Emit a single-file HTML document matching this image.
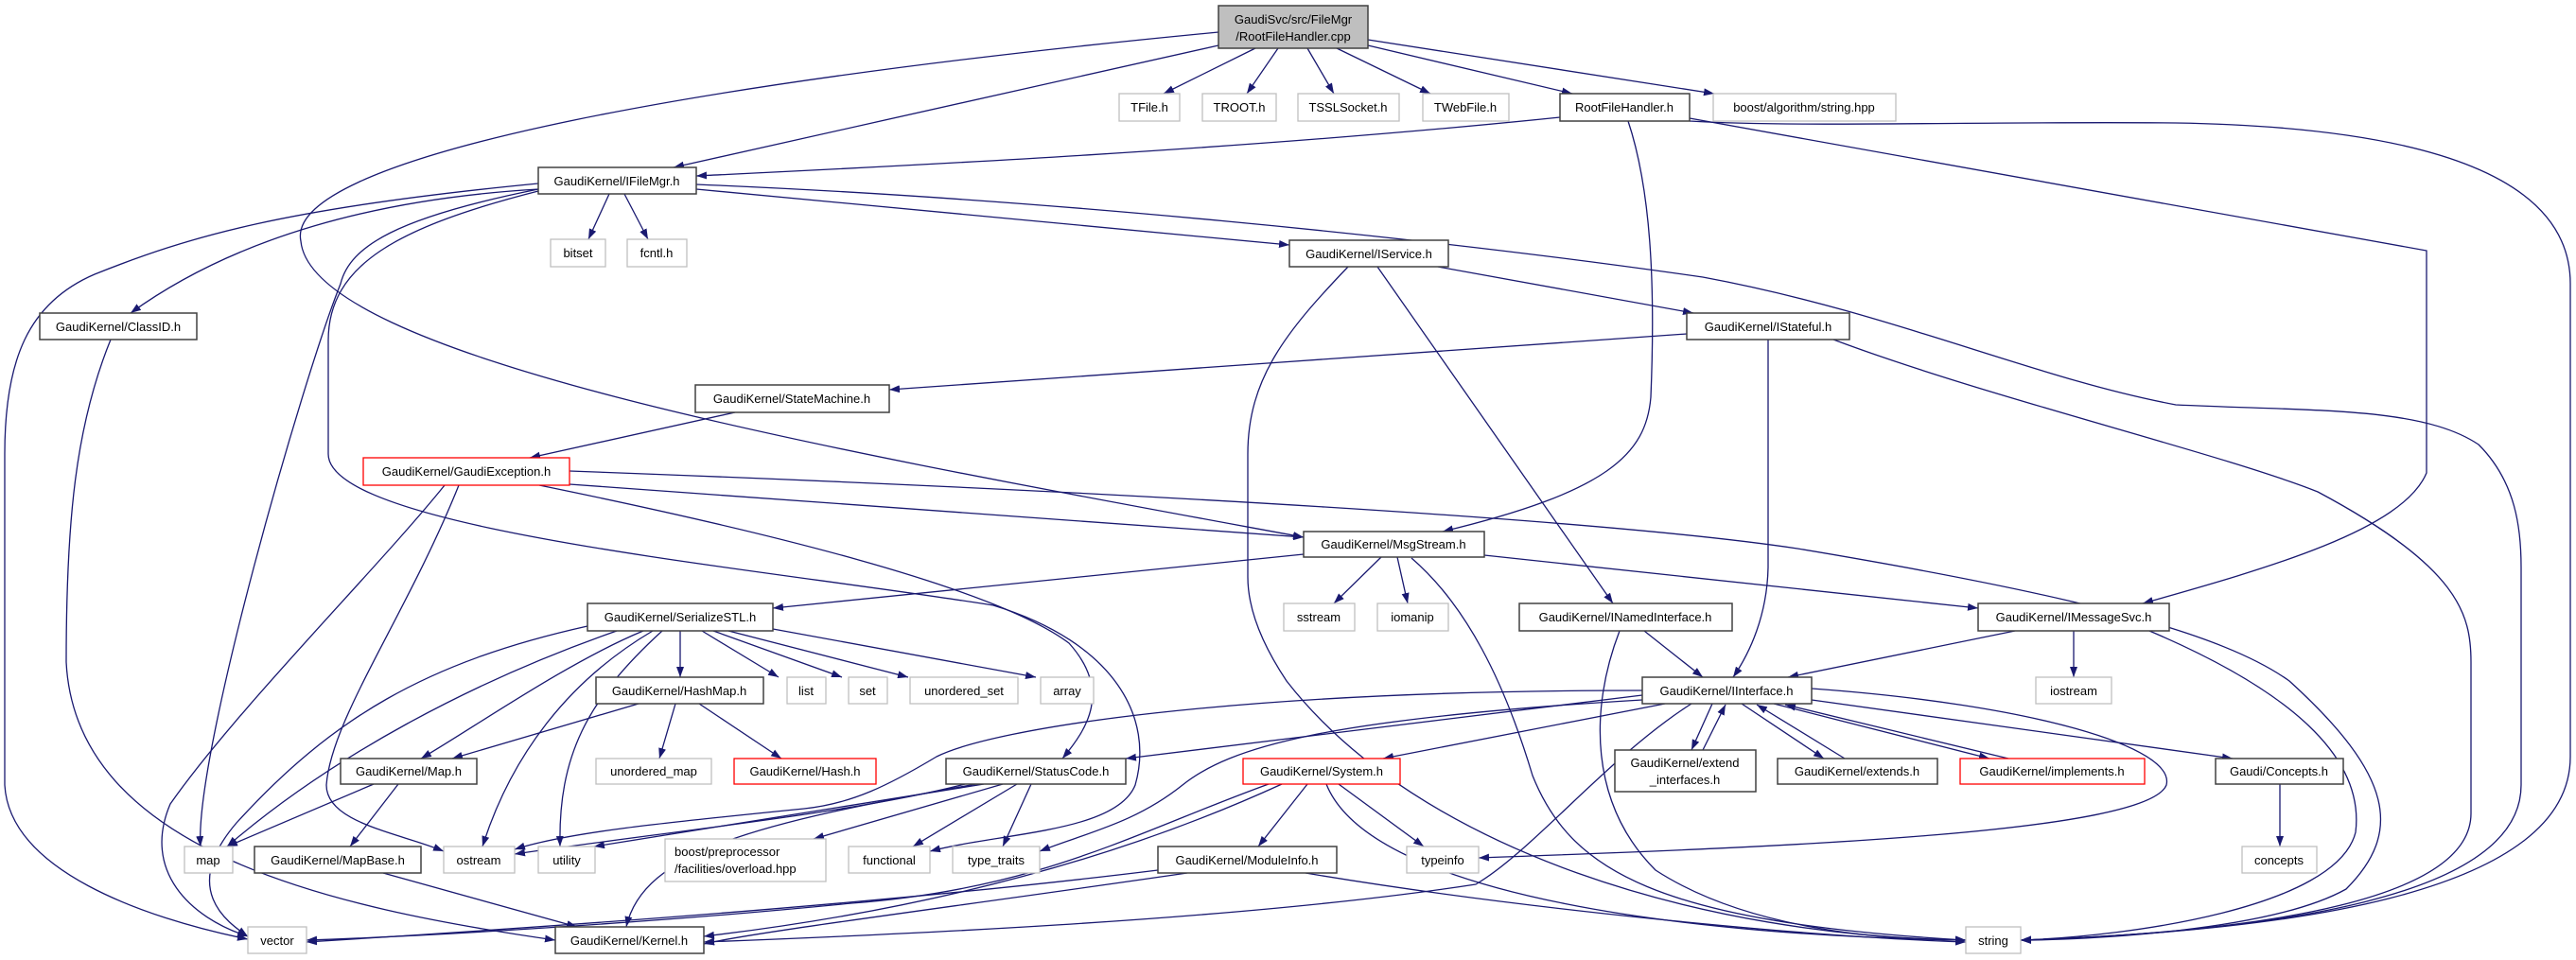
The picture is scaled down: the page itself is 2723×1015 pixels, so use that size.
<!DOCTYPE html>
<html><head><meta charset="utf-8"><style>
html,body{margin:0;padding:0;background:#fff;}
svg{display:block;}
text{font-family:"Liberation Sans",sans-serif;font-size:13px;fill:#000;}
.e{fill:none;stroke:#191970;stroke-width:1.3;marker-end:url(#a);}
.n{fill:#fff;stroke:#404040;stroke-width:1.5;}
.g{fill:#fff;stroke:#bfbfbf;stroke-width:1.3;}
.r{fill:#fff;stroke:#ff0000;stroke-width:1.3;}
</style></head><body>
<svg width="2723" height="1015" viewBox="0 0 2723 1015" xmlns="http://www.w3.org/2000/svg">
<defs><marker id="a" markerUnits="userSpaceOnUse" markerWidth="11" markerHeight="8" refX="11" refY="4" orient="auto"><path d="M0,0 L11,4 L0,8 z" fill="#191970"/></marker></defs>
<g>
<!-- root -->
<line class="e" x1="1327" y1="51" x2="1230" y2="99"/>
<line class="e" x1="1351" y1="51" x2="1318" y2="99"/>
<line class="e" x1="1382" y1="51" x2="1410" y2="99"/>
<line class="e" x1="1413" y1="51" x2="1512" y2="99"/>
<line class="e" x1="1446" y1="48" x2="1662" y2="99"/>
<line class="e" x1="1446" y1="42" x2="1812" y2="99"/>
<line class="e" x1="1288" y1="48" x2="712" y2="177"/>
<path class="e" d="M1288,34 C700,90 300,170 318,255 C330,380 900,480 1378,568"/>
<!-- RFH -->
<path class="e" d="M1649,124 C1300,160 900,178 736,186"/>
<path class="e" d="M1721,128 C1745,200 1750,300 1745,420 C1740,480 1700,520 1525,562"/>
<path class="e" d="M1786,125 L2565,265 L2565,500 C2540,560 2400,600 2265,638"/>
<path class="e" d="M1786,128 C1900,135 2100,128 2300,130 C2600,135 2717,200 2717,300 L2717,800 C2717,950 2400,985 2136,994"/>
<!-- IFileMgr -->
<line class="e" x1="644" y1="205" x2="622" y2="253"/>
<line class="e" x1="660" y1="205" x2="685" y2="253"/>
<line class="e" x1="736" y1="200" x2="1363" y2="259"/>
<path class="e" d="M569,200 C400,210 250,250 138,331"/>
<path class="e" d="M569,194 C300,220 200,250 100,290 C30,320 5,380 5,480 L5,830 C10,920 150,970 262,993"/>
<path class="e" d="M569,200 C420,230 370,260 360,300 C320,400 205,800 212,895"/>
<path class="e" d="M569,202 C420,240 347,280 347,360 L347,480 C347,560 800,600 1050,640 C1180,680 1220,760 1200,830 C1180,880 1060,880 983,900"/>
<path class="e" d="M736,195 C1100,210 1500,250 1800,293 C2000,330 2150,400 2300,428 C2450,435 2560,430 2620,470 C2660,510 2665,560 2665,600 L2665,830 C2665,950 2400,985 2136,994"/>
<!-- IService / IStateful -->
<line class="e" x1="1520" y1="282" x2="1790" y2="331"/>
<line class="e" x1="1456" y1="282" x2="1705" y2="638"/>
<path class="e" d="M1425,282 C1360,350 1319,400 1319,480 L1319,610 C1319,650 1340,690 1360,720 C1500,900 1800,990 2078,994"/>
<line class="e" x1="1783" y1="353" x2="940" y2="412"/>
<path class="e" d="M1869,359 L1869,600 C1868,650 1850,690 1832,716"/>
<path class="e" d="M1938,359 C2100,420 2350,480 2450,520 C2600,600 2612,650 2612,700 L2612,860 C2612,950 2400,985 2136,994"/>
<line class="e" x1="777" y1="436" x2="560" y2="484"/>
<!-- GaudiException -->
<line class="e" x1="602" y1="512" x2="1378" y2="568"/>
<path class="e" d="M602,498 C1200,520 1700,550 1900,580 C2200,630 2350,670 2420,720 C2530,820 2540,880 2480,940 C2400,985 2200,994 2136,994"/>
<path class="e" d="M570,513 C800,560 1050,620 1130,680 C1175,730 1150,770 1123,802"/>
<path class="e" d="M470,513 C400,600 250,750 180,850 C150,920 200,970 262,990"/>
<path class="e" d="M485,513 C430,650 350,760 345,830 C345,870 420,880 469,900"/>
<path class="e" d="M117,359 C80,450 70,550 70,700 C80,900 350,960 587,994"/>
<!-- MsgStream -->
<line class="e" x1="1460" y1="589" x2="1410" y2="638"/>
<line class="e" x1="1477" y1="589" x2="1488" y2="638"/>
<line class="e" x1="1378" y1="586" x2="817" y2="643"/>
<line class="e" x1="1569" y1="587" x2="2091" y2="643"/>
<path class="e" d="M1492,590 C1550,640 1590,720 1620,820 C1660,920 1750,975 2078,994"/>
<line class="e" x1="1738" y1="667" x2="1800" y2="716"/>
<path class="e" d="M1712,667 C1680,750 1680,850 1750,920 C1850,985 2000,994 2078,994"/>
<line class="e" x1="2130" y1="667" x2="1890" y2="716"/>
<line class="e" x1="2192" y1="667" x2="2192" y2="716"/>
<path class="e" d="M2272,667 C2420,730 2500,800 2490,880 C2470,960 2250,990 2136,994"/>
<!-- SerializeSTL -->
<line class="e" x1="719" y1="667" x2="719" y2="716"/>
<line class="e" x1="742" y1="667" x2="823" y2="716"/>
<line class="e" x1="754" y1="667" x2="890" y2="716"/>
<line class="e" x1="770" y1="667" x2="960" y2="716"/>
<line class="e" x1="817" y1="665" x2="1095" y2="716"/>
<path class="e" d="M680,667 C600,700 500,770 445,802"/>
<path class="e" d="M652,667 C500,720 350,800 240,895"/>
<path class="e" d="M621,662 C450,700 350,760 250,870 C190,940 240,975 262,990"/>
<path class="e" d="M690,667 C600,720 540,800 510,895"/>
<path class="e" d="M700,667 C620,740 590,800 592,895"/>
<!-- HashMap / Map -->
<line class="e" x1="675" y1="744" x2="478" y2="802"/>
<line class="e" x1="714" y1="744" x2="697" y2="802"/>
<line class="e" x1="739" y1="744" x2="826" y2="802"/>
<line class="e" x1="395" y1="829" x2="240" y2="895"/>
<line class="e" x1="421" y1="829" x2="370" y2="895"/>
<line class="e" x1="405" y1="923" x2="610" y2="980"/>
<!-- IInterface -->
<line class="e" x1="1736" y1="735" x2="1190" y2="802"/>
<line class="e" x1="1760" y1="744" x2="1462" y2="802"/>
<line class="e" x1="1810" y1="744" x2="1788" y2="793"/>
<line class="e" x1="1800" y1="793" x2="1824" y2="745"/>
<line class="e" x1="1841" y1="744" x2="1928" y2="802"/>
<line class="e" x1="1950" y1="802" x2="1857" y2="745"/>
<line class="e" x1="1875" y1="744" x2="2103" y2="802"/>
<line class="e" x1="2123" y1="802" x2="1887" y2="745"/>
<line class="e" x1="1915" y1="740" x2="2360" y2="802"/>
<line class="e" x1="2410" y1="829" x2="2410" y2="895"/>
<path class="e" d="M1915,728 C2150,745 2300,790 2290,830 C2270,880 1900,895 1563,907"/>
<path class="e" d="M1736,730 C1300,730 1050,770 990,800 C940,830 900,850 850,855 C700,870 600,880 544,898"/>
<path class="e" d="M1736,740 C1400,760 1300,790 1250,830 C1200,870 1150,880 1099,900"/>
<path class="e" d="M1788,744 C1700,800 1620,900 1560,935 C1300,975 900,990 744,996"/>
<!-- StatusCode -->
<line class="e" x1="1075" y1="829" x2="965" y2="895"/>
<line class="e" x1="1090" y1="829" x2="1060" y2="895"/>
<path class="e" d="M1020,829 C900,860 700,880 544,903"/>
<line class="e" x1="1040" y1="829" x2="628" y2="895"/>
<line class="e" x1="1060" y1="829" x2="860" y2="887"/>
<path class="e" d="M1032,829 C800,870 680,900 662,980"/>
<!-- System / ModuleInfo -->
<line class="e" x1="1382" y1="829" x2="1330" y2="895"/>
<line class="e" x1="1415" y1="829" x2="1505" y2="895"/>
<path class="e" d="M1341,829 C1200,880 1100,940 900,955 C700,975 450,990 324,994"/>
<path class="e" d="M1355,829 C1200,900 1000,960 744,990"/>
<path class="e" d="M1402,829 C1450,950 1800,990 2078,994"/>
<path class="e" d="M1224,920 C900,960 500,985 324,996"/>
<path class="e" d="M1255,923 C1000,960 800,985 744,998"/>
<path class="e" d="M1380,923 C1600,960 1900,990 2078,996"/>
</g>
<g>
<rect x="1288" y="6" width="158" height="45" fill="#bfbfbf" stroke="#404040" stroke-width="1.5"/>
<text x="1367" y="25" text-anchor="middle">GaudiSvc/src/FileMgr</text>
<text x="1367" y="43" text-anchor="middle">/RootFileHandler.cpp</text>
<rect class="g" x="1183" y="99" width="64" height="29"/><text x="1215" y="118" text-anchor="middle">TFile.h</text>
<rect class="g" x="1271" y="99" width="78" height="29"/><text x="1310" y="118" text-anchor="middle">TROOT.h</text>
<rect class="g" x="1372" y="99" width="107" height="29"/><text x="1425" y="118" text-anchor="middle">TSSLSocket.h</text>
<rect class="g" x="1504" y="99" width="91" height="29"/><text x="1549" y="118" text-anchor="middle">TWebFile.h</text>
<rect class="n" x="1649" y="99" width="137" height="29"/><text x="1717" y="118" text-anchor="middle">RootFileHandler.h</text>
<rect class="g" x="1811" y="99" width="193" height="29"/><text x="1907" y="118" text-anchor="middle">boost/algorithm/string.hpp</text>
<rect class="n" x="569" y="177" width="167" height="28"/><text x="652" y="196" text-anchor="middle">GaudiKernel/IFileMgr.h</text>
<rect class="g" x="582" y="253" width="58" height="29"/><text x="611" y="272" text-anchor="middle">bitset</text>
<rect class="g" x="663" y="253" width="63" height="29"/><text x="694" y="272" text-anchor="middle">fcntl.h</text>
<rect class="n" x="1363" y="254" width="168" height="28"/><text x="1447" y="273" text-anchor="middle">GaudiKernel/IService.h</text>
<rect class="n" x="42" y="331" width="166" height="28"/><text x="125" y="350" text-anchor="middle">GaudiKernel/ClassID.h</text>
<rect class="n" x="1783" y="331" width="172" height="28"/><text x="1869" y="350" text-anchor="middle">GaudiKernel/IStateful.h</text>
<rect class="n" x="735" y="407" width="205" height="29"/><text x="837" y="426" text-anchor="middle">GaudiKernel/StateMachine.h</text>
<rect class="r" x="384" y="484" width="218" height="29"/><text x="493" y="503" text-anchor="middle">GaudiKernel/GaudiException.h</text>
<rect class="n" x="1378" y="562" width="191" height="27"/><text x="1473" y="580" text-anchor="middle">GaudiKernel/MsgStream.h</text>
<rect class="n" x="621" y="638" width="196" height="29"/><text x="719" y="657" text-anchor="middle">GaudiKernel/SerializeSTL.h</text>
<rect class="g" x="1357" y="638" width="75" height="29"/><text x="1394" y="657" text-anchor="middle">sstream</text>
<rect class="g" x="1456" y="638" width="75" height="29"/><text x="1493" y="657" text-anchor="middle">iomanip</text>
<rect class="n" x="1606" y="638" width="225" height="29"/><text x="1718" y="657" text-anchor="middle">GaudiKernel/INamedInterface.h</text>
<rect class="n" x="2091" y="638" width="202" height="29"/><text x="2192" y="657" text-anchor="middle">GaudiKernel/IMessageSvc.h</text>
<rect class="n" x="630" y="716" width="177" height="28"/><text x="718" y="735" text-anchor="middle">GaudiKernel/HashMap.h</text>
<rect class="g" x="832" y="716" width="41" height="28"/><text x="852" y="735" text-anchor="middle">list</text>
<rect class="g" x="897" y="716" width="41" height="28"/><text x="917" y="735" text-anchor="middle">set</text>
<rect class="g" x="962" y="716" width="114" height="28"/><text x="1019" y="735" text-anchor="middle">unordered_set</text>
<rect class="g" x="1100" y="716" width="56" height="28"/><text x="1128" y="735" text-anchor="middle">array</text>
<rect class="n" x="1736" y="716" width="179" height="28"/><text x="1825" y="735" text-anchor="middle">GaudiKernel/IInterface.h</text>
<rect class="g" x="2152" y="716" width="80" height="28"/><text x="2192" y="735" text-anchor="middle">iostream</text>
<rect class="n" x="360" y="802" width="144" height="27"/><text x="432" y="820" text-anchor="middle">GaudiKernel/Map.h</text>
<rect class="g" x="630" y="802" width="122" height="27"/><text x="691" y="820" text-anchor="middle">unordered_map</text>
<rect class="r" x="776" y="802" width="150" height="27"/><text x="851" y="820" text-anchor="middle">GaudiKernel/Hash.h</text>
<rect class="n" x="1000" y="802" width="190" height="27"/><text x="1095" y="820" text-anchor="middle">GaudiKernel/StatusCode.h</text>
<rect class="r" x="1314" y="802" width="166" height="27"/><text x="1397" y="820" text-anchor="middle">GaudiKernel/System.h</text>
<rect class="n" x="1707" y="793" width="149" height="44"/><text x="1781" y="811" text-anchor="middle">GaudiKernel/extend</text><text x="1781" y="829" text-anchor="middle">_interfaces.h</text>
<rect class="n" x="1879" y="802" width="169" height="27"/><text x="1963" y="820" text-anchor="middle">GaudiKernel/extends.h</text>
<rect class="r" x="2072" y="802" width="195" height="27"/><text x="2169" y="820" text-anchor="middle">GaudiKernel/implements.h</text>
<rect class="n" x="2342" y="802" width="135" height="27"/><text x="2409" y="820" text-anchor="middle">Gaudi/Concepts.h</text>
<rect class="g" x="195" y="895" width="51" height="28"/><text x="220" y="914" text-anchor="middle">map</text>
<rect class="n" x="269" y="895" width="176" height="28"/><text x="357" y="914" text-anchor="middle">GaudiKernel/MapBase.h</text>
<rect class="g" x="469" y="895" width="75" height="28"/><text x="506" y="914" text-anchor="middle">ostream</text>
<rect class="g" x="569" y="895" width="60" height="28"/><text x="599" y="914" text-anchor="middle">utility</text>
<rect class="g" x="703" y="887" width="170" height="45"/><text x="713" y="905">boost/preprocessor</text><text x="713" y="923">/facilities/overload.hpp</text>
<rect class="g" x="897" y="895" width="86" height="28"/><text x="940" y="914" text-anchor="middle">functional</text>
<rect class="g" x="1007" y="895" width="92" height="28"/><text x="1053" y="914" text-anchor="middle">type_traits</text>
<rect class="n" x="1224" y="895" width="189" height="28"/><text x="1318" y="914" text-anchor="middle">GaudiKernel/ModuleInfo.h</text>
<rect class="g" x="1487" y="895" width="76" height="28"/><text x="1525" y="914" text-anchor="middle">typeinfo</text>
<rect class="g" x="2370" y="895" width="79" height="28"/><text x="2409" y="914" text-anchor="middle">concepts</text>
<rect class="g" x="262" y="980" width="62" height="28"/><text x="293" y="999" text-anchor="middle">vector</text>
<rect class="n" x="587" y="980" width="157" height="28"/><text x="665" y="999" text-anchor="middle">GaudiKernel/Kernel.h</text>
<rect class="g" x="2078" y="980" width="58" height="28"/><text x="2107" y="999" text-anchor="middle">string</text>
</g>
</svg>
</body></html>
